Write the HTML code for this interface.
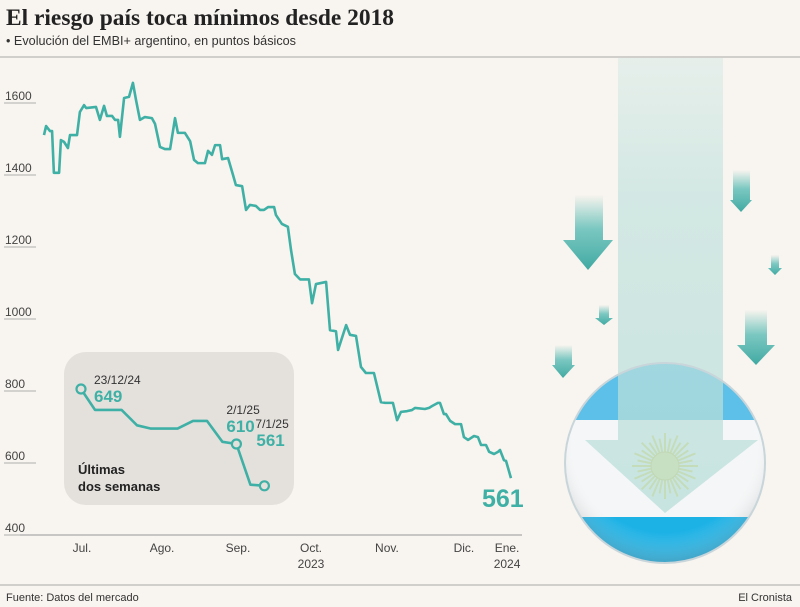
<!DOCTYPE html>
<html><head><meta charset="utf-8"><style>
html,body{margin:0;padding:0;background:#f8f4ef;}
svg{display:block;font-family:"Liberation Sans",sans-serif;}
</style></head><body>
<svg id="chart" width="800" height="607" viewBox="0 0 800 607">
<defs>
<linearGradient id="arrowG" x1="0" y1="0" x2="0" y2="1"><stop offset="0" stop-color="#5bbcb5" stop-opacity="0"/><stop offset="0.45" stop-color="#5bbcb5" stop-opacity="0.8"/><stop offset="1" stop-color="#3fa9a2"/></linearGradient>
<linearGradient id="bigG" x1="0" y1="0" x2="0" y2="1"><stop offset="0" stop-color="#c9e6e2" stop-opacity="0.5"/><stop offset="0.3" stop-color="#c4e3df" stop-opacity="0.95"/><stop offset="1" stop-color="#b6ddd8" stop-opacity="0.95"/></linearGradient>
<radialGradient id="gloss" cx="0.5" cy="0.4" r="0.6"><stop offset="0.75" stop-color="#fff" stop-opacity="0"/><stop offset="1" stop-color="#888" stop-opacity="0.35"/></radialGradient>
<clipPath id="circ"><circle cx="665" cy="463" r="100"/></clipPath>
</defs>
<rect width="800" height="607" fill="#f8f4ef"/>
<text x="6" y="25" font-family="'Liberation Serif',serif" font-weight="bold" font-size="23" fill="#222" textLength="388" lengthAdjust="spacingAndGlyphs">El riesgo país toca mínimos desde 2018</text>
<text x="6" y="45" font-size="13" fill="#333" textLength="290" lengthAdjust="spacingAndGlyphs">• Evolución del EMBI+ argentino, en puntos básicos</text>
<line x1="0" y1="57" x2="800" y2="57" stroke="#aaa" stroke-width="1"/>

<g id="decor">
 <g clip-path="url(#circ)">
  <rect x="560" y="360" width="210" height="60" fill="#5cc0e8"/>
  <rect x="560" y="420" width="210" height="97" fill="#f4f6f7"/>
  <rect x="560" y="517" width="210" height="50" fill="#1db2e6"/>
  <circle cx="665" cy="463" r="100" fill="url(#gloss)"/>
 </g>
 <g id="sun"></g>
 <path d="M618 58 H723 V440 H758 L665 513 L585 440 H618 Z" fill="url(#bigG)" opacity="0.75"/>
 <circle cx="665" cy="463" r="100" fill="none" stroke="#c8d5da" stroke-width="2"/>
 <path d="M575 195H603V240H613L588 270L563 240H575Z" fill="url(#arrowG)"/>
 <path d="M733 170H750V200H752L741 212L730 200H733Z" fill="url(#arrowG)"/>
 <path d="M771 255H779V268H782L775 275L768 268H771Z" fill="url(#arrowG)"/>
 <path d="M599 305H609V318H613L604 325L595 318H599Z" fill="url(#arrowG)"/>
 <path d="M745 310H767V345H775L756 365L737 345H745Z" fill="url(#arrowG)"/>
 <path d="M555 345H572V365H575L563 378L552 365H555Z" fill="url(#arrowG)"/>
</g>

<g id="yaxis"></g>
<g id="xaxis"></g>
<g id="series"></g>
<text x="482" y="507" font-weight="bold" font-size="25" fill="#3fb0a5">561</text>

<g id="inset">
 <rect x="64" y="352" width="230" height="153" rx="22" fill="#e4e1dd"/>
 <text x="78" y="474" font-weight="bold" font-size="13" fill="#222">Últimas</text>
 <text x="78" y="491" font-weight="bold" font-size="13" fill="#222">dos semanas</text>
</g>

<line x1="0" y1="585" x2="800" y2="585" stroke="#aaa" stroke-width="1"/>
<text x="6" y="601" font-size="11" fill="#333">Fuente: Datos del mercado</text>
<text x="792" y="601" font-size="11" fill="#333" text-anchor="end">El Cronista</text>
</svg>
<script>
const days = [0,0.8,2.3,3.1,3.8,5.8,6.5,7.7,9.2,10,12.7,13.8,15.4,16.2,20,21.5,23.1,24.2,26.2,27.3,28.5,29.2,30.8,32.7,34.2,35.4,36.9,38.8,41.5,42.7,44.6,46.5,48.5,50.4,51.5,54.2,56.2,57.7,59.2,61.9,63.1,64.6,65.8,67.7,68.5,70.8,72.7,73.8,76.2,77.7,79.2,81.5,83.1,84.6,86.2,88.5,89.2,91.5,93.8,95,96.5,98.5,101.9,103.1,104.6,108.5,110,112.3,113.1,116.2,117.7,120,121.9,123.8,126.9,129.6,131.2,134.2,135.8,137.3,139.6,141.5,142.7,146.5,148.1,149.2,151.5,152.3,153.8,154.6,156.2,158.1,160.4,161.5,163.1,165.4,166.9,168.1,170,171.2,173.1,174.6,175.4,176.9,177.7,179.6];
const values = [1511,1536,1522,1522,1406,1406,1497,1492,1475,1511,1511,1575,1594,1586,1589,1553,1592,1564,1564,1553,1553,1506,1614,1617,1656,1608,1553,1561,1558,1542,1478,1472,1472,1558,1517,1517,1494,1442,1433,1433,1467,1456,1483,1483,1444,1447,1400,1372,1369,1303,1317,1314,1303,1303,1311,1311,1289,1264,1256,1192,1125,1110,1110,1044,1097,1103,969,966,914,983,956,953,867,850,850,769,767,767,719,742,744,747,753,750,753,758,767,767,736,736,717,708,708,672,664,675,672,650,650,631,625,631,636,608,606,558];
const yTicks = [1600,1400,1200,1000,800,600,400];
const monthLabels = ["Jul.","Ago.","Sep.","Oct.","Nov.","Dic.","Ene."];
const monthDays = [14.6,45.4,74.6,102.7,131.9,161.5,178.1];
const yearLabels = ["","","","2023","","","2024"];
const insetDays = [0,1,2.9,4,5,6.9,8,9,10.1,11.1,12.1,13.1];
const insetValues = [649,630,630,616,613,613,620,620,601,599,562,561];
const insetMarked = [0,9,11];
const insetDates = ["23/12/24","2/1/25","7/1/25"];
const insetLabels = ["649","610","561"];

const NS="http://www.w3.org/2000/svg";
const yScale = v => 103 + (1600 - v) * 0.36;
const xScale = d => 44 + d * 2.6;
const ixScale = d => 81 + d * 14;
const iyScale = v => 389 + (649 - v) * 1.1;
function mk(tag, attrs, parent){const e=document.createElementNS(NS,tag);for(const k in attrs)e.setAttribute(k,attrs[k]);parent.appendChild(e);return e;}

const ya=document.getElementById('yaxis');
yTicks.forEach(t=>{
  const y=yScale(t);
  const l=mk('line',{x1:4,x2:36,y1:y,y2:y,stroke:'#999','stroke-width':0.8},ya);
  
  
  const tx=mk('text',{x:5,y:y-3,'font-size':12,fill:'#444'},ya);
  
  
  tx.textContent=t;
});
const xa=document.getElementById('xaxis');
const al=mk('line',{x1:20,x2:522,y1:535,y2:535,stroke:'#999','stroke-width':1},xa);


monthLabels.forEach((m,i)=>{
  const x=xScale(monthDays[i]);
  const t=mk('text',{x:x,y:552,'font-size':12,fill:'#444','text-anchor':'middle'},xa);
  
  
  t.textContent=m;
  if(yearLabels[i]){
    const y2=mk('text',{x:x,y:568,'font-size':12,fill:'#444','text-anchor':'middle'},xa);
    
    
    y2.textContent=yearLabels[i];
  }
});
const se=document.getElementById('series');
const line=mk('polyline',{points:days.map((d,i)=>xScale(d)+','+yScale(values[i])).join(' '),fill:'none',stroke:'#3fb0a5','stroke-width':2.6,'stroke-linejoin':'round'},se);



const ins=document.getElementById('inset');
const il=mk('polyline',{points:insetDays.map((d,i)=>ixScale(d)+','+iyScale(insetValues[i])).join(' '),fill:'none',stroke:'#3fb0a5','stroke-width':2.6,'stroke-linejoin':'round'},ins);


const offs=[[13,-5,13],[-10,-30,-10],[-9,-58,-8]];
insetMarked.forEach((idx,k)=>{
  const x=ixScale(insetDays[idx]), y=iyScale(insetValues[idx]);
  const c=mk('circle',{cx:x,cy:y,r:4.5,fill:'#e4e1dd',stroke:'#3fb0a5','stroke-width':2.2},ins);
  
  
  const o=offs[k];
  const dt=mk('text',{x:x+o[0],y:y+o[1],'font-size':12,fill:'#333'},ins);
  
  
  dt.textContent=insetDates[k];
  const vl=mk('text',{x:x+o[2],y:y+o[1]+18,'font-size':17,'font-weight':'bold',fill:'#3fb0a5'},ins);
  
  
  vl.textContent=insetLabels[k];
});
const sun=document.getElementById('sun');
for(let a=0;a<32;a++){
  const ang=a*Math.PI/16;
  mk('line',{x1:665+Math.cos(ang)*14,y1:466+Math.sin(ang)*14,x2:665+Math.cos(ang)*(a%2?28:33),y2:466+Math.sin(ang)*(a%2?28:33),stroke:'#e3d86a','stroke-width':2},sun);
}
mk('circle',{cx:665,cy:466,r:14,fill:'#eee48a',stroke:'#d8c85a'},sun);
</script>
</body></html>
